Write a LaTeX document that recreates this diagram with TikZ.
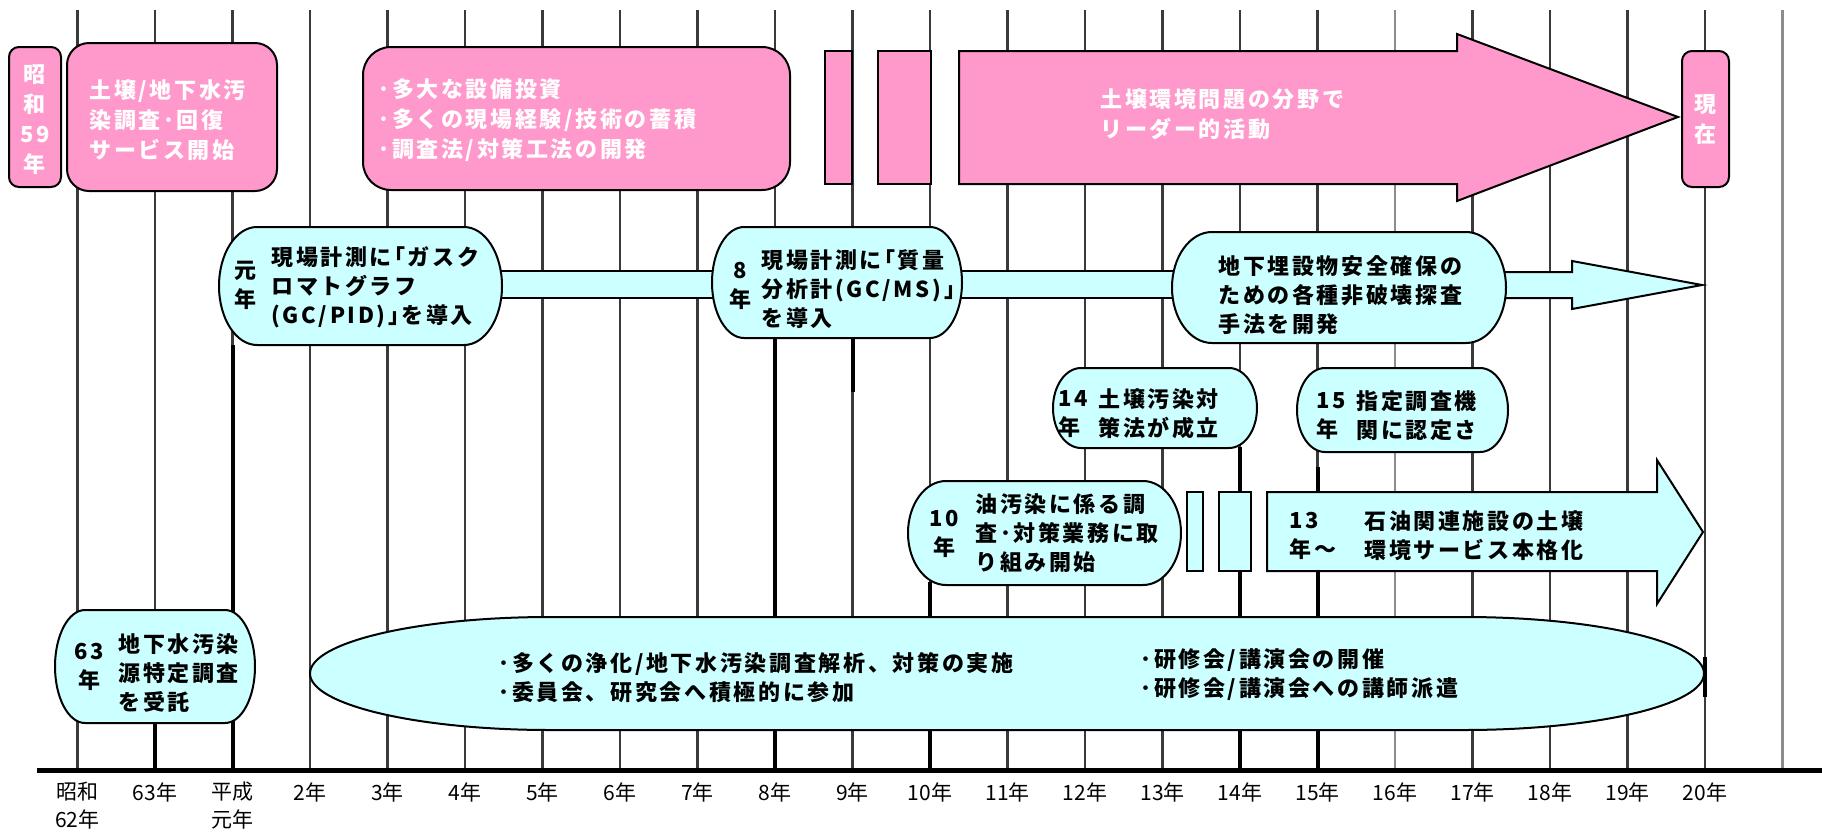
\documentclass[tikz,border=0pt]{standalone}
\usepackage{fontspec}
\newfontfamily\jp{Noto Sans CJK JP}[LetterSpace=12]
\newfontfamily\jpr{Noto Sans CJK JP}
\definecolor{pinkf}{HTML}{FF99CC}
\definecolor{cyanf}{HTML}{CCFFFF}
\definecolor{vline}{HTML}{3A3A3A}
\definecolor{vlight}{HTML}{8C8C8C}
\newcommand\ebox[7]{%
 \path[#1] ({#2+#6},#3) -- ({#4-#6},#3)
  .. controls ({#4-0.4477*#6},#3) and (#4,{#3+0.4477*#7}) .. (#4,{#3+#7})
  -- (#4,{#5-#7})
  .. controls (#4,{#5-0.4477*#7}) and ({#4-0.4477*#6},#5) .. ({#4-#6},#5)
  -- ({#2+#6},#5)
  .. controls ({#2+0.4477*#6},#5) and (#2,{#5-0.4477*#7}) .. (#2,{#5-#7})
  -- (#2,{#3+#7})
  .. controls (#2,{#3+0.4477*#7}) and ({#2+0.4477*#6},#3) .. ({#2+#6},#3) -- cycle;}
\newcommand\lbr{\kern-0.4em「}
\newcommand\rbr{」\kern-0.4em}
\tikzset{
 vl/.style={draw=vline, line width=1.4pt},
 vll/.style={draw=vlight, line width=1.4pt},
 blk/.style={draw=black, line width=2pt},
 pinkbox/.style={draw=black, line width=1pt, fill=pinkf},
 cyanbox/.style={draw=black, line width=1pt, fill=cyanf},
 wtxt/.style={text=white, font=\jp\bfseries\fontsize{11}{15}\selectfont, inner sep=0pt, align=left, anchor=west},
 btxt/.style={text=black, font=\jp\bfseries\fontsize{11}{14.5}\selectfont, inner sep=0pt, align=left, anchor=west},
 axl/.style={text=black, font=\jpr\fontsize{10.5}{14}\selectfont, inner sep=0pt, align=center, anchor=center},
}
\begin{document}
\begin{tikzpicture}[x=0.5pt,y=-0.5pt]
\useasboundingbox (0,0) rectangle (1822,831);
% grid lines
\foreach \i in {0,...,16,18,19,20,21} \draw[vl] ({77.5*(\i+1)},10) -- ({77.5*(\i+1)},770);
\foreach \i in {17,22} \draw[vll] ({77.5*(\i+1)},10) -- ({77.5*(\i+1)},770);
% black event segments
\draw[blk] (232.5,345) -- (232.5,770);
\draw[blk] (155,723) -- (155,770);
\draw[blk] (775,338) -- (775,770);
\draw[blk] (852.5,338) -- (852.5,392);
\draw[blk] (930,582) -- (930,770);
\draw[blk] (1240,447) -- (1240,770);
\draw[blk] (1317.5,467) -- (1317.5,770);
% axis
\draw[line width=2.5pt] (37,770) -- (1822,770);
% top row (pink)
\draw[pinkbox, rounded corners=5pt] (9,47) rectangle (61,187);
\draw[pinkbox, rounded corners=11pt] (67,43) rectangle (277,191);
\draw[pinkbox, rounded corners=14pt] (363,47) rectangle (790,190);
\draw[pinkbox] (825,51) rectangle (852,184);
\draw[pinkbox] (878,51) rectangle (931,184);
\draw[pinkbox] (959,51) -- (1457,51) -- (1457,34) -- (1678,117) -- (1457,201) -- (1457,184) -- (959,184) -- cycle;
\draw[pinkbox, rounded corners=5pt] (1682,51) rectangle (1729,187);
% second row (cyan)
\draw[cyanbox] (480,271) rectangle (735,298);
\draw[cyanbox] (940,271) rectangle (1195,298);
\draw[cyanbox] (1480,272) -- (1572,272) -- (1572,261) -- (1702,285) -- (1572,309) -- (1572,298) -- (1480,298) -- cycle;
\ebox{cyanbox}{219}{227}{502}{345}{38}{59}
\ebox{cyanbox}{712}{227}{962}{338}{32}{55.5}
\ebox{cyanbox}{1172}{232}{1506}{343}{40}{55.5}
% third row
\ebox{cyanbox}{1053}{368}{1257}{448}{28}{40}
\ebox{cyanbox}{1297}{368}{1508}{452}{28}{42}
% fourth row
\ebox{cyanbox}{908}{481}{1181}{585}{38}{52}
\draw[cyanbox] (1187,492) rectangle (1203,571);
\draw[cyanbox] (1219,492) rectangle (1251,571);
\draw[cyanbox] (1267,492) -- (1657,492) -- (1657,460) -- (1703,532) -- (1657,604) -- (1657,571) -- (1267,571) -- cycle;
% bottom row
\ebox{cyanbox}{55}{610}{255}{723}{30}{56.5}
\ebox{cyanbox}{310}{617}{1704}{730}{240}{56.5}
\draw[blk] (1705,657) -- (1705,697);
% texts (pink)
\node[wtxt, anchor=center, align=center] (t59) at (35,120) {昭\\和\\59\\年};
\node[wtxt] (tA) at (89,120) {土壌/地下水汚\\染調査･回復\\サービス開始};
\node[wtxt] (tB) at (378,120) {･多大な設備投資\\･多くの現場経験/技術の蓄積\\･調査法/対策工法の開発};
\node[wtxt] (tArr) at (1100,114) {土壌環境問題の分野で\\リーダー的活動};
\node[wtxt, anchor=center, align=center] (tNow) at (1705,120) {現\\在};
% texts (cyan)
\node[btxt, anchor=center, align=center] (y1) at (245,285) {元\\年};
\node[btxt] (t1) at (271,287) {現場計測に\lbr ガスク\\ロマトグラフ\\(GC/PID)\rbr を導入};
\node[btxt, anchor=center, align=center] (y8) at (740,286) {8\\年};
\node[btxt] (t8) at (761,289) {現場計測に\lbr 質量\\分析計(GC/MS)」\\を導入};
\node[btxt] (tUG) at (1218,295) {地下埋設物安全確保の\\ための各種非破壊探査\\手法を開発};
\node[btxt] (y14) at (1058,414) {14\\年};
\node[btxt] (t14) at (1098,414) {土壌汚染対\\策法が成立};
\node[btxt] (y15) at (1316,416) {15\\年};
\node[btxt] (t15) at (1356,416) {指定調査機\\関に認定さ};
\node[btxt, anchor=center, align=center] (y10) at (944,534) {10\\年};
\node[btxt] (t10) at (975,533) {油汚染に係る調\\査･対策業務に取\\り組み開始};
\node[btxt] (y13) at (1289,536) {13\\年～};
\node[btxt] (t13) at (1364,536) {石油関連施設の土壌\\環境サービス本格化};
\node[btxt, anchor=center, align=center] (y63) at (89,667) {63\\年};
\node[btxt] (t63) at (118,673) {地下水汚染\\源特定調査\\を受託};
\node[btxt] (te1) at (498,678) {･多くの浄化/地下水汚染調査解析、対策の実施\\･委員会、研究会へ積極的に参加};
\node[btxt] (te2) at (1140,675) {･研修会/講演会の開催\\･研修会/講演会への講師派遣};
% axis labels
\node[axl] (l0) at (77.5,806) {昭和\\62年};
\node[axl] (l1) at (155,792) {63年};
\node[axl] (l2) at (232.5,806) {平成\\元年};
\foreach \k in {2,...,20} \node[axl] (l\k) at ({77.5*(\k+2)},792) {{\k}年};
\end{tikzpicture}
\end{document}
